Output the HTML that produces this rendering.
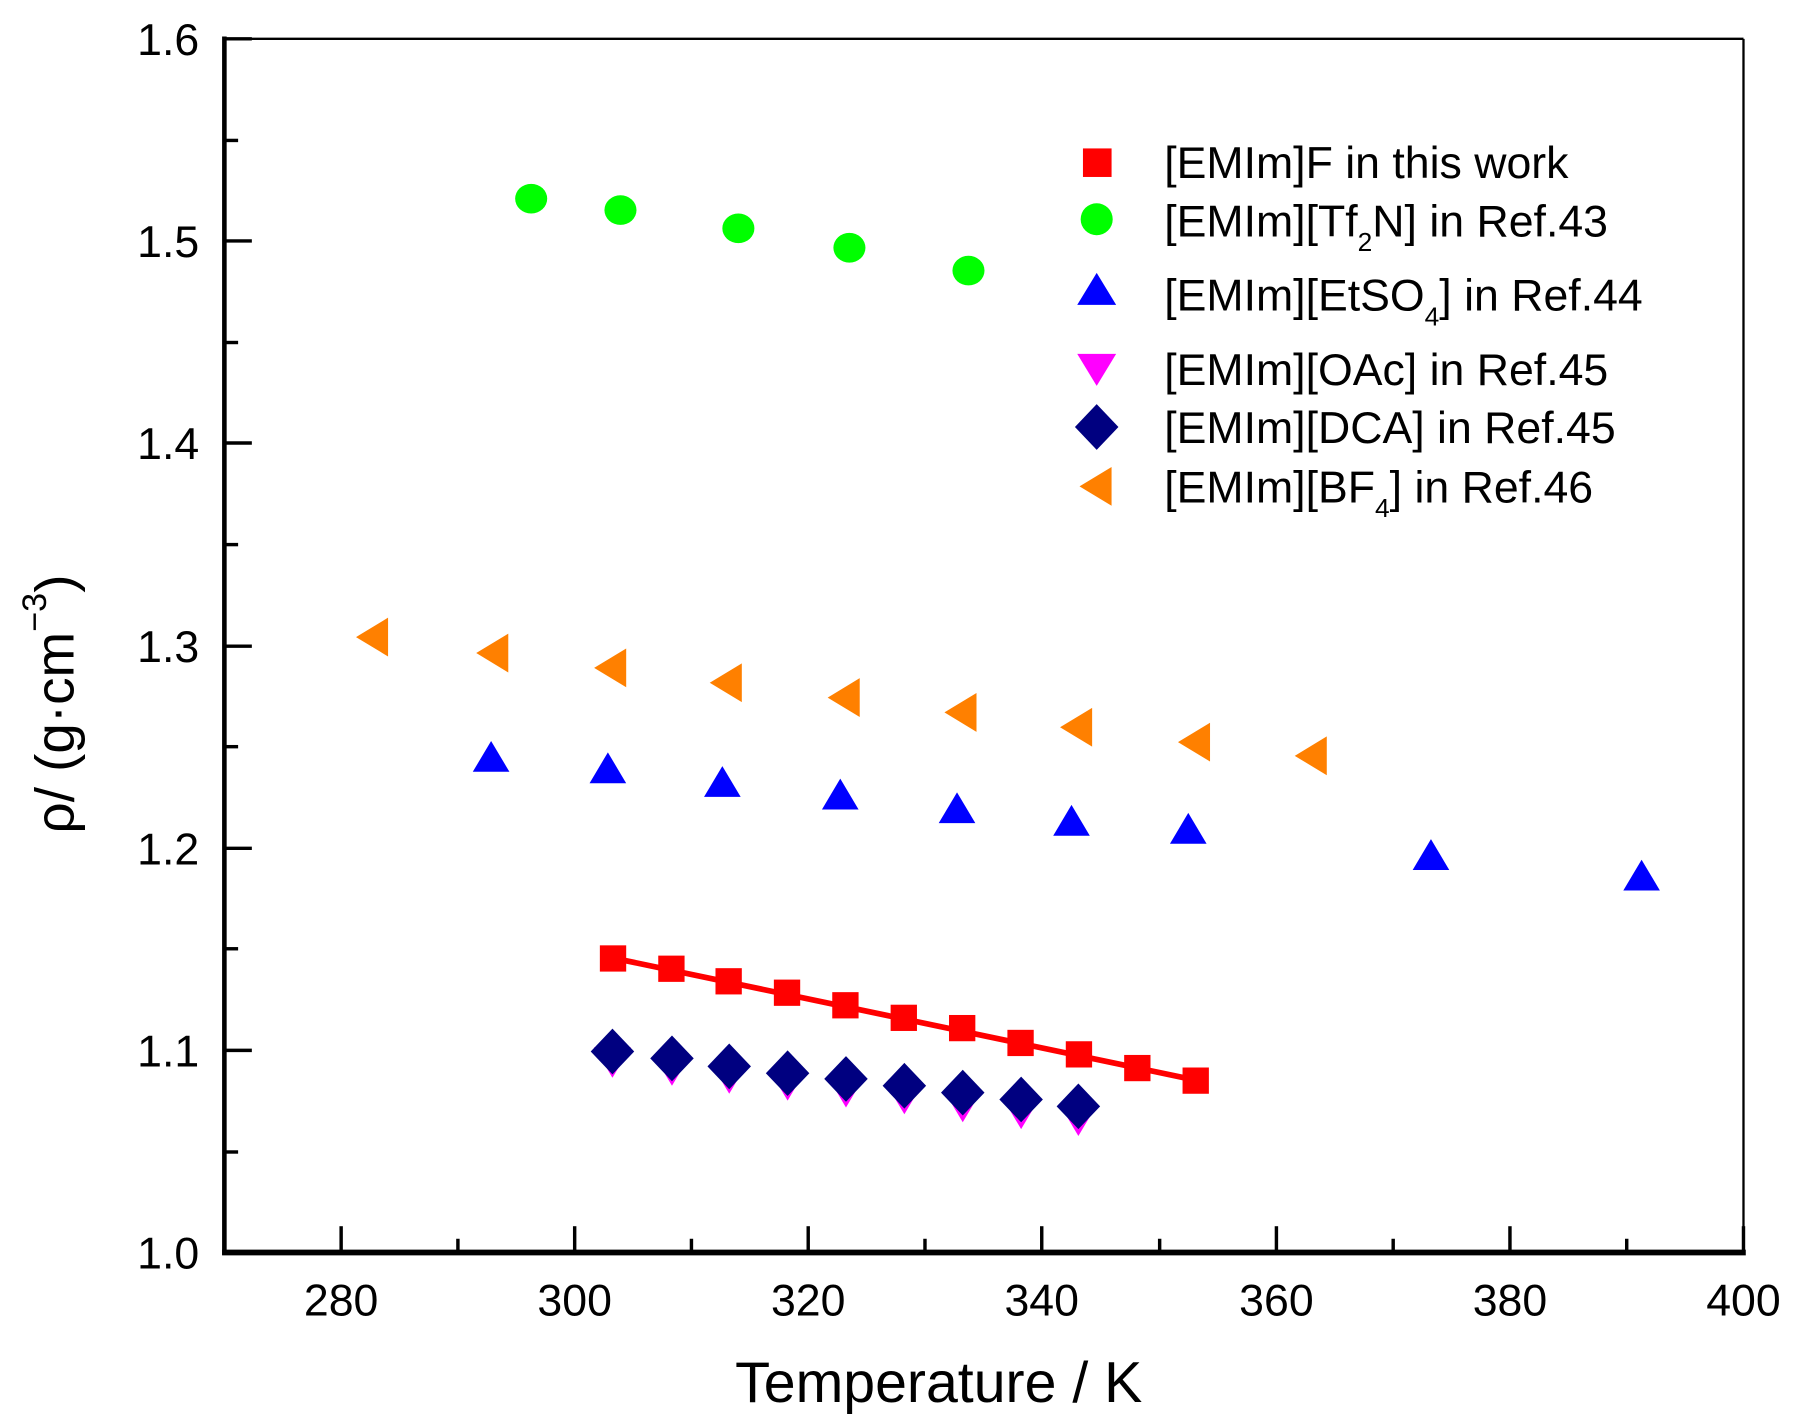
<!DOCTYPE html>
<html><head><meta charset="utf-8"><style>html,body{margin:0;padding:0;background:#fff}svg{display:block}</style></head>
<body>
<svg width="1795" height="1426" viewBox="0 0 1568 1249" preserveAspectRatio="none" xmlns="http://www.w3.org/2000/svg" font-family="Liberation Sans, sans-serif">
<rect width="1568" height="1249" fill="#fff"/>
<line x1="196" y1="34" x2="1523" y2="34" stroke="#000" stroke-width="2"/>
<line x1="1523" y1="34" x2="1523" y2="1097" stroke="#000" stroke-width="2"/>
<line x1="196" y1="32" x2="196" y2="1099" stroke="#000" stroke-width="4"/>
<line x1="194" y1="1097" x2="1525" y2="1097" stroke="#000" stroke-width="5"/>
<g stroke="#000" stroke-width="3">
<line x1="298" y1="1097" x2="298" y2="1074"/><line x1="502" y1="1097" x2="502" y2="1074"/><line x1="706" y1="1097" x2="706" y2="1074"/><line x1="910" y1="1097" x2="910" y2="1074"/><line x1="1115" y1="1097" x2="1115" y2="1074"/><line x1="1319" y1="1097" x2="1319" y2="1074"/><line x1="1523" y1="1097" x2="1523" y2="1074"/>
<line x1="400" y1="1097" x2="400" y2="1085"/><line x1="604" y1="1097" x2="604" y2="1085"/><line x1="808" y1="1097" x2="808" y2="1085"/><line x1="1013" y1="1097" x2="1013" y2="1085"/><line x1="1217" y1="1097" x2="1217" y2="1085"/><line x1="1421" y1="1097" x2="1421" y2="1085"/>
<line x1="196" y1="34" x2="220" y2="34"/><line x1="196" y1="211" x2="220" y2="211"/><line x1="196" y1="388" x2="220" y2="388"/><line x1="196" y1="566" x2="220" y2="566"/><line x1="196" y1="743" x2="220" y2="743"/><line x1="196" y1="920" x2="220" y2="920"/>
<line x1="196" y1="123" x2="208" y2="123"/><line x1="196" y1="300" x2="208" y2="300"/><line x1="196" y1="477" x2="208" y2="477"/><line x1="196" y1="654" x2="208" y2="654"/><line x1="196" y1="831" x2="208" y2="831"/><line x1="196" y1="1009" x2="208" y2="1009"/>
</g>
<g font-size="39" text-anchor="end" fill="#000">
<text x="174" y="48">1.6</text><text x="174" y="225">1.5</text><text x="174" y="402">1.4</text><text x="174" y="580">1.3</text><text x="174" y="757">1.2</text><text x="174" y="934">1.1</text><text x="174" y="1111">1.0</text>
</g>
<g font-size="39" text-anchor="middle" fill="#000">
<text x="298" y="1152">280</text><text x="502" y="1152">300</text><text x="706" y="1152">320</text><text x="910" y="1152">340</text><text x="1115" y="1152">360</text><text x="1319" y="1152">380</text><text x="1523" y="1152">400</text>
</g>
<text x="820" y="1228" font-size="50" text-anchor="middle">Temperature / K</text>
<text transform="translate(64,730) rotate(-90)" font-size="48">ρ/ (g·cm<tspan font-size="30" dy="-24">−3</tspan><tspan dy="24">)</tspan></text>
<line x1="535" y1="839" x2="1044" y2="946" stroke="#f00" stroke-width="5"/>
<g fill="#f00">
<rect x="524" y="828" width="23" height="23"/><rect x="575" y="837" width="23" height="23"/><rect x="625" y="848" width="23" height="23"/><rect x="676" y="858" width="23" height="23"/><rect x="727" y="869" width="23" height="23"/><rect x="778" y="880" width="23" height="23"/><rect x="829" y="889" width="23" height="23"/><rect x="880" y="902" width="23" height="23"/><rect x="931" y="912" width="23" height="23"/><rect x="982" y="924" width="23" height="23"/><rect x="1033" y="935" width="23" height="23"/>
</g>
<g fill="#0f0">
<ellipse cx="464" cy="174" rx="14" ry="13"/><ellipse cx="542" cy="184" rx="14" ry="13"/><ellipse cx="645" cy="200" rx="14" ry="13"/><ellipse cx="742" cy="217" rx="14" ry="13"/><ellipse cx="846" cy="237" rx="14" ry="13"/>
</g>
<g fill="#ff8000">
<path d="M311,558 l28,-17 v34z"/><path d="M416,572 l28,-17 v34z"/><path d="M519,585 l28,-17 v34z"/><path d="M620,598 l28,-17 v34z"/><path d="M723,611 l28,-17 v34z"/><path d="M825,624 l28,-17 v34z"/><path d="M926,637 l28,-17 v34z"/><path d="M1029,650 l28,-17 v34z"/><path d="M1131,662 l28,-17 v34z"/>
</g>
<g fill="#00f">
<path d="M429,649 l16,27 h-32z"/><path d="M531,659 l16,27 h-32z"/><path d="M631,671 l16,27 h-32z"/><path d="M734,682 l16,27 h-32z"/><path d="M836,694 l16,27 h-32z"/><path d="M936,705 l16,27 h-32z"/><path d="M1038,712 l16,27 h-32z"/><path d="M1250,735 l16,27 h-32z"/><path d="M1434,753 l16,27 h-32z"/>
</g>
<g fill="#f0f">
<path d="M519,917 h32 l-16,27z"/><path d="M571,924 h32 l-16,27z"/><path d="M621,931 h32 l-16,27z"/><path d="M672,937 h32 l-16,27z"/><path d="M723,943 h32 l-16,27z"/><path d="M774,949 h32 l-16,27z"/><path d="M825,956 h32 l-16,27z"/><path d="M876,962 h32 l-16,27z"/><path d="M926,968 h32 l-16,27z"/>
</g>
<g fill="#000080">
<path d="M535,901 l19,20 l-19,20 l-19,-20z"/><path d="M587,907 l19,20 l-19,20 l-19,-20z"/><path d="M637,914 l19,20 l-19,20 l-19,-20z"/><path d="M688,920 l19,20 l-19,20 l-19,-20z"/><path d="M739,925 l19,20 l-19,20 l-19,-20z"/><path d="M790,931 l19,20 l-19,20 l-19,-20z"/><path d="M841,937 l19,20 l-19,20 l-19,-20z"/><path d="M892,943 l19,20 l-19,20 l-19,-20z"/><path d="M942,949 l19,20 l-19,20 l-19,-20z"/>
</g>
<rect x="946" y="130" width="25" height="25" fill="#f00"/>
<ellipse cx="958" cy="192" rx="14" ry="14" fill="#0f0"/>
<path d="M958,239 l17,28 h-34z" fill="#00f"/>
<path d="M941,310 h34 l-17,28z" fill="#f0f"/>
<path d="M958,354 l19,20 l-19,20 l-19,-20z" fill="#000080"/>
<path d="M943,426 l28,-17 v34z" fill="#ff8000"/>
<g font-size="39" fill="#000">
<text x="1017" y="156">[EMIm]F in this work</text>
<text x="1017" y="207">[EMIm][Tf<tspan font-size="23" dy="13">2</tspan><tspan dy="-13">N] in Ref.43</tspan></text>
<text x="1017" y="272">[EMIm][EtSO<tspan font-size="23" dy="13">4</tspan><tspan dy="-13">] in Ref.44</tspan></text>
<text x="1017" y="337">[EMIm][OAc] in Ref.45</text>
<text x="1017" y="388">[EMIm][DCA] in Ref.45</text>
<text x="1017" y="440">[EMIm][BF<tspan font-size="23" dy="13">4</tspan><tspan dy="-13">] in Ref.46</tspan></text>
</g>
</svg>
</body></html>
